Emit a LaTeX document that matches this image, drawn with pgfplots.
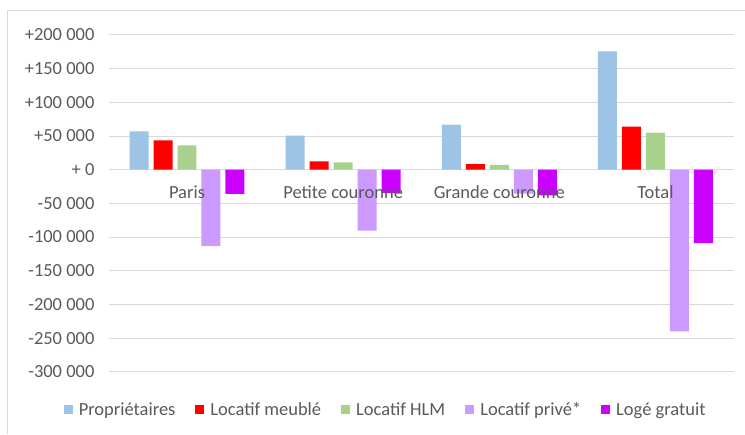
\documentclass[border=0pt]{standalone}
\usepackage{pgfplots}
\pgfplotsset{compat=1.18}
\usepackage{fontspec}
\setmainfont{Carlito}
\definecolor{cBlue}{HTML}{9DC3E6}
\definecolor{cRed}{HTML}{FF0000}
\definecolor{cGreen}{HTML}{A9D18E}
\definecolor{cPurple}{HTML}{CC99FF}
\definecolor{cMag}{HTML}{CC00FF}
\definecolor{txt}{HTML}{595959}
\definecolor{gridc}{HTML}{D9D9D9}
\pgfplotsset{layers/mylayers/.define layer set={axis background,axis grid,axis ticks,axis lines,main,axis tick labels,axis descriptions,axis foreground}{/pgfplots/layers/standard}}
\begin{document}
\begin{tikzpicture}
\begin{axis}[
  set layers=mylayers,
  at={(109pt,62pt)}, anchor=south west,
  scale only axis, width=625pt, height=337pt,
  ymin=-300000, ymax=200000,
  xmin=-0.5, xmax=3.5,
  ybar=5pt, bar width=19pt,
  axis x line*=middle,
  axis y line*=left,
  x axis line style={draw=none},
  y axis line style={draw=none},
  xtick={0,1,2,3},
  xticklabels={Paris, Petite couronne, Grande couronne, Total},
  xtick style={draw=none}, ytick style={draw=none},
  scaled y ticks=false,
  ytick={-300000,-250000,-200000,-150000,-100000,-50000,0,50000,100000,150000,200000},
  yticklabels={-300 000,-250 000,-200 000,-150 000,-100 000,-50 000,+ 0,+50 000,+100 000,+150 000,+200 000},
  ymajorgrids, grid style={color=gridc, line width=1pt},
  tick label style={font=\fontsize{18.5}{21}\selectfont, text=txt},
  yticklabel style={xshift=-11pt},
  xticklabel style={yshift=-8pt},
  /pgf/number format/assume math mode=true,
  legend style={at={(0.443,-0.113)}, anchor=center, draw=none, fill=none,
    legend columns=-1, font=\fontsize{18.5}{21}\selectfont, text=txt,
    /tikz/every odd column/.append style={column sep=4pt},
    /tikz/every even column/.append style={column sep=18pt}},
  legend image code/.code={\fill[#1] (0pt,-4.5pt) rectangle (9pt,4.5pt);},
]
\addplot[fill=cBlue, draw=none] coordinates {(0,57000) (1,50500) (2,67000) (3,175500)};
\addplot[fill=cRed, draw=none] coordinates {(0,43500) (1,12500) (2,8300) (3,64000)};
\addplot[fill=cGreen, draw=none] coordinates {(0,36000) (1,10800) (2,7000) (3,55000)};
\addplot[fill=cPurple, draw=none] coordinates {(0,-113500) (1,-90500) (2,-35500) (3,-240000)};
\addplot[fill=cMag, draw=none] coordinates {(0,-36000) (1,-34500) (2,-38000) (3,-109000)};
\legend{Propriétaires, Locatif meublé, Locatif HLM, Locatif privé*, Logé gratuit}
\end{axis}
\draw[color=gridc, line width=1pt] (8pt,0pt) -- (8pt,423pt) -- (745pt,423pt);
\path[use as bounding box] (0,0) rectangle (745pt,434pt);
\end{tikzpicture}
\end{document}
